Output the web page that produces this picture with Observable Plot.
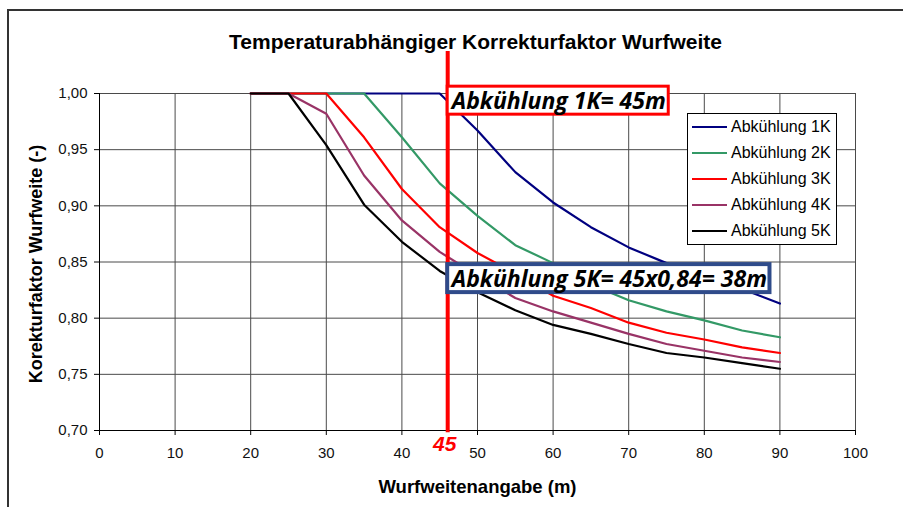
<!DOCTYPE html>
<html><head><meta charset="utf-8">
<script src="https://cdn.jsdelivr.net/npm/d3@7"></script>
<script src="https://cdn.jsdelivr.net/npm/@observablehq/plot@0.6"></script>
<style>
body{margin:0;background:#fff;}
#wrap{position:relative;width:903px;height:507px;overflow:hidden;font-family:"Liberation Sans",Arial,sans-serif;background:#fff;}
#frame{position:absolute;left:7px;top:9px;width:920px;height:600px;border-left:2px solid #333;border-top:2px solid #333;pointer-events:none;}
#legend{position:absolute;left:687px;top:113px;width:150px;height:132px;border:1px solid #000;background:#fff;box-sizing:border-box;}
.row{height:26px;display:flex;align-items:center;font-size:16px;color:#000;white-space:nowrap}
.sw{width:35px;height:0;border-top:2.5px solid;margin-left:4px;margin-right:4px;flex:none}
</style></head><body><div id="wrap"></div>
<script>
// ---- data ----
const xs = [20, 25, 30, 35, 40, 45, 50, 55, 60, 65, 70, 75, 80, 85, 90];
const series = ["Abkühlung 1K", "Abkühlung 2K", "Abkühlung 3K", "Abkühlung 4K", "Abkühlung 5K"];
const k1 = [1, 1, 1, 1, 1, 1, 0.967, 0.930, 0.903, 0.881, 0.863, 0.849, 0.838, 0.826, 0.813];
const k2 = [1, 1, 1, 1, 0.961, 0.920, 0.891, 0.865, 0.849, 0.830, 0.816, 0.806, 0.798, 0.789, 0.783];
const k3 = [1, 1, 1, 0.961, 0.915, 0.881, 0.858, 0.840, 0.820, 0.809, 0.796, 0.787, 0.781, 0.774, 0.769];
const k4 = [1, 1, 0.982, 0.927, 0.887, 0.859, 0.838, 0.818, 0.806, 0.796, 0.786, 0.777, 0.771, 0.765, 0.761];
const k5 = [1, 1, 0.954, 0.901, 0.868, 0.842, 0.823, 0.807, 0.794, 0.786, 0.777, 0.769, 0.765, 0.760, 0.755];
const colors = ["#000080", "#339966", "#ff0000", "#993366", "#000000"];
const xTicks = [0, 10, 20, 30, 40, 50, 60, 70, 80, 90, 100];
const yTicks = [0.70, 0.75, 0.80, 0.85, 0.90, 0.95, 1.00];
const marker = 45;
const titleText = "Temperaturabhängiger Korrekturfaktor Wurfweite";
const xLabel = "Wurfweitenangabe (m)";
const yLabel = "Korekturfaktor Wurfweite (-)";
const notes = [
  {text: "Abkühlung 1K= 45m", y: 0.9926, color: "#ff0000", sw: 3},
  {text: "Abkühlung 5K= 45x0,84= 38m", y: 0.8342, color: "#2f4b8a", sw: 4}
];

// ---- build ----
const values = [k1, k2, k3, k4, k5];
const data = xs.flatMap((x, i) => series.map((s, j) => ({x, y: values[j][i], s})));
const fmt = d => d.toFixed(2).replace(".", ",");

const chart = Plot.plot({
  width: 903, height: 507,
  marginLeft: 99, marginRight: 48, marginTop: 93, marginBottom: 77,
  style: {background: "transparent", fontFamily: "'Liberation Sans', Arial, sans-serif", fontSize: "15px", color: "#111"},
  x: {domain: [0, 100]},
  y: {domain: [0.70, 1.00]},
  color: {domain: series, range: colors},
  marks: [
    Plot.gridX(xTicks, {stroke: "#4a4a4a", strokeOpacity: 1}),
    Plot.gridY(yTicks, {stroke: "#4a4a4a", strokeOpacity: 1}),
    Plot.axisX(xTicks, {tickSize: 5, tickPadding: 12, label: null, tickFormat: d => String(d), stroke: "#000", fill: "#111"}),
    Plot.axisY(yTicks, {tickSize: 5, tickPadding: 7, label: null, tickFormat: fmt, stroke: "#000", fill: "#111"}),
    Plot.ruleY([0.70], {stroke: "#000"}),
    Plot.ruleX([0], {stroke: "#000"}),
    Plot.lineY(data, {x: "x", y: "y", stroke: "s", z: "s", strokeWidth: 2.2}),
    Plot.ruleX([marker], {y1: 0.698, y2: 1.0374, stroke: "#ff0000", strokeWidth: 4, dx: 8}),
    Plot.text([marker], {x: d => d, y: 0.70, dx: 5, dy: 14, text: d => String(d), fill: "#ff0000",
      fontWeight: "bold", fontStyle: "italic", fontSize: 21, lineAnchor: "middle"}),
    Plot.text(notes, {x: marker, y: "y", dx: 12, text: "text", textAnchor: "start", fill: "#000",
      fontFamily: "'Open Sans', sans-serif", fontWeight: "bold", fontStyle: "italic", fontSize: 23}),
    Plot.text([titleText], {frameAnchor: "top", dy: -51, dx: -2, text: d => d, fontWeight: "bold", fontSize: 21, fill: "#000", lineAnchor: "middle"}),
    Plot.text([xLabel], {frameAnchor: "bottom", dy: 57, dx: 0, text: d => d, fontWeight: "bold", fontSize: 18.5, fill: "#000", lineAnchor: "middle"}),
    Plot.text([yLabel], {frameAnchor: "left", textAnchor: "middle", lineAnchor: "middle", dx: -63, dy: 2, rotate: -90, text: d => d, fontWeight: "bold", fontSize: 18, fill: "#000"})
  ]
});

const wrap = document.getElementById("wrap");
wrap.appendChild(chart);

// boxes behind annotation texts
chart.querySelectorAll("text").forEach(t => {
  const s = t.textContent;
  const n = notes.find(d => d.text === s);
  if (!n) return;
  const b = t.getBBox();
  const r = document.createElementNS("http://www.w3.org/2000/svg", "rect");
  const cy = b.y + b.height / 2;
  r.setAttribute("x", b.x - 2.5);
  r.setAttribute("width", b.width + 5);
  r.setAttribute("y", cy - 14);
  r.setAttribute("height", 28);
  r.setAttribute("fill", "#fff");
  r.setAttribute("stroke", n.color);
  r.setAttribute("stroke-width", n.sw);
  const tr = t.getAttribute("transform");
  if (tr) r.setAttribute("transform", tr);
  t.parentNode.insertBefore(r, t);
});

// legend
const leg = document.createElement("div");
leg.id = "legend";
series.forEach((s, i) => {
  const row = document.createElement("div");
  row.className = "row";
  const sw = document.createElement("span");
  sw.className = "sw";
  sw.style.borderTopColor = colors[i];
  row.appendChild(sw);
  row.appendChild(document.createTextNode(s));
  leg.appendChild(row);
});
wrap.appendChild(leg);

const frame = document.createElement("div");
frame.id = "frame";
wrap.appendChild(frame);
</script>
</body></html>
